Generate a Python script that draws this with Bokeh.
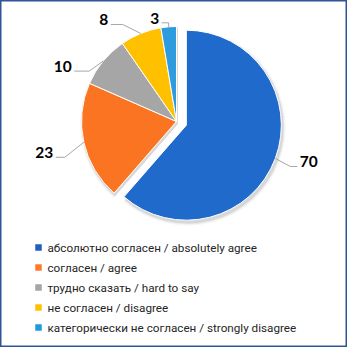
import numpy as np
from bokeh.plotting import figure
from bokeh.models import Range1d, ColumnDataSource
from bokeh.core.properties import value
from bokeh.embed import file_html
from bokeh.resources import INLINE

# ---- data ----
categories = [
    "абсолютно согласен / absolutely agree",
    "согласен / agree",
    "трудно сказать / hard to say",
    "не согласен / disagree",
    "категорически не согласен / strongly disagree",
]
counts = [70, 23, 10, 8, 3]
colors = ["#1F6ACB", "#FB7422", "#A6A6A6", "#FFC000", "#2E9BDE"]
legend_colors = ["#1F5FC0", "#FF7A28", "#A5A5A5", "#FFC000", "#1E9BE0"]

# ---- layout ----
W, H = 347, 347
PAD = 8


def dxp(sx):
    return sx - PAD


def dyp(sy):
    return H - (sy - PAD)


p = figure(width=W, height=H, x_range=Range1d(0, W), y_range=Range1d(0, H),
           output_backend="svg", toolbar_location=None, min_border=0)
p.axis.visible = False
p.grid.visible = False
p.outline_line_color = "#2F5597"
p.outline_line_width = 2
p.background_fill_color = "white"
p.border_fill_color = "white"

vals = np.array(counts, dtype=float)
total = vals.sum()
cum = np.concatenate([[0.0], np.cumsum(vals)])
start = np.pi / 2 - 2 * np.pi * cum[:-1] / total
end = np.pi / 2 - 2 * np.pi * cum[1:] / total
mid = (start + end) / 2

cx, cy = dxp(184), dyp(129)
R = 95
explode = np.array([10.5, 0, 0, 0, 0])
xs = cx + explode * np.cos(mid)
ys = cy + explode * np.sin(mid)

src = ColumnDataSource(dict(x=xs, y=ys, start=start, end=end, color=colors))

# soft shadow
for rr, a in [(3.0, 0.03), (1.8, 0.05), (0.8, 0.08)]:
    p.wedge(x="x", y="y", radius=R + rr, start_angle="start", end_angle="end",
            direction="clock", source=ColumnDataSource(dict(x=xs + 1.5, y=ys - 2.5, start=start, end=end)),
            fill_color="black", fill_alpha=a, line_color=None)

p.wedge(x="x", y="y", radius=R, start_angle="start", end_angle="end",
        direction="clock", source=src, fill_color="color", line_color="white", line_width=1)

# leader lines + labels
edge_x = xs + R * np.cos(mid)
edge_y = ys + R * np.sin(mid)
elbow = [(15, 8), (-19, 15), (-14, 10), (-18, -9), (0, -4)]
tail = [7, -9, -15, -12, -7]
lx, ly, tx, ty, align = [], [], [], [], []
for i in range(len(counts)):
    ex = edge_x[i] + elbow[i][0]
    ey = edge_y[i] - elbow[i][1]
    txe = ex + tail[i]
    lx.append([edge_x[i], ex, txe])
    ly.append([edge_y[i], ey, ey])
    sgn = 1 if tail[i] > 0 else -1
    tx.append(txe + sgn * 2.5)
    ty.append(ey + 4.5)
    align.append("left" if sgn > 0 else "right")

p.multi_line(xs=lx, ys=ly, line_color="#A6A6A6", line_width=1)
p.text(x=tx, y=ty, text=[str(c) for c in counts], text_align=align,
       text_baseline="middle", text_font=value("Lato"), text_font_style="bold",
       text_font_size="15.5px", text_color="black")

# legend
rows_y = [dyp(255 + 20 * i) for i in range(len(categories))]
p.scatter(x=[dxp(46)] * len(categories), y=rows_y, marker="square", size=6.5,
          fill_color=legend_colors, line_color=None)
p.text(x=[dxp(55)] * len(categories), y=rows_y, text=categories,
       text_baseline="middle", text_align="left", text_font=value("Roboto"),
       text_font_size="11.7px", text_color="#262626")

open("out.html", "w").write(file_html(p, INLINE))
